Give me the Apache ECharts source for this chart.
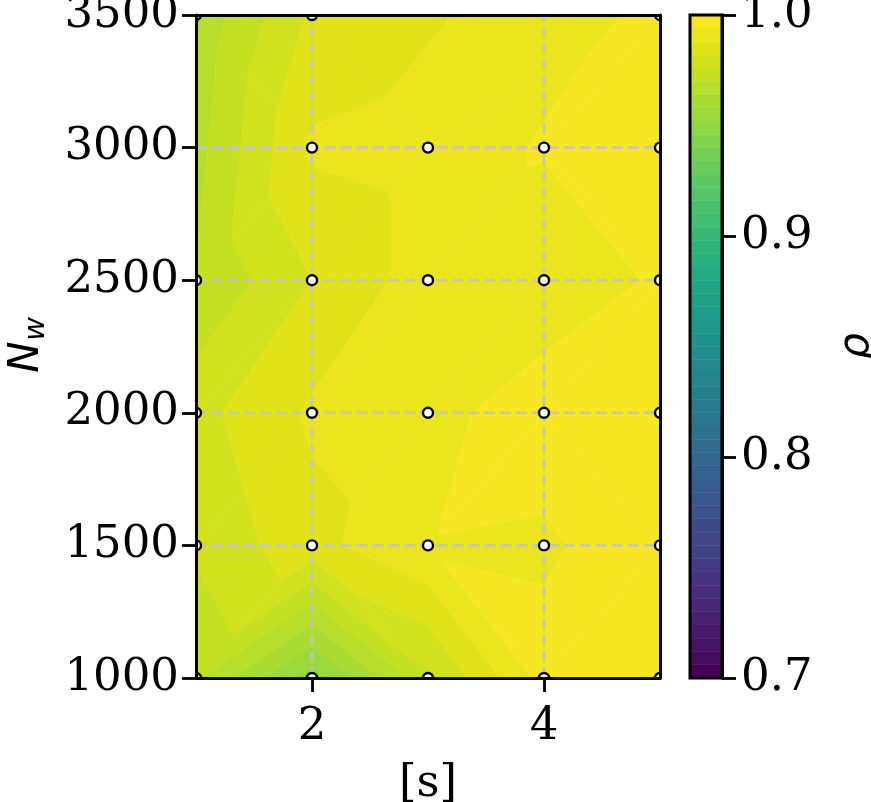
<!DOCTYPE html>
<html><head><meta charset="utf-8">
<script src="https://cdn.jsdelivr.net/npm/echarts@6/dist/echarts.min.js"></script>
<style>html,body{margin:0;padding:0;background:#fff}#c{width:871px;height:802px}</style>
</head><body><div id="c"></div>
<script>
// ---------------- data ----------------
// sample points: x = [s], y = N_w, value = rho
const sValues  = [1,2,3,4,5,  1,2,3,4,5,  1,2,3,4,5,  1,2,3,4,5,  2,3,4,5,  1,2,5];
const nwValues = [1000,1000,1000,1000,1000,
                  1500,1500,1500,1500,1500,
                  2000,2000,2000,2000,2000,
                  2500,2500,2500,2500,2500,
                  3000,3000,3000,3000,
                  3500,3500,3500];
const rhoValues = [0.971, 0.949, 0.9745, 0.9963, 0.998,
                   0.977, 0.986, 0.9937, 0.993, 0.998,
                   0.980, 0.989, 0.992, 0.9973, 0.998,
                   0.9702, 0.982, 0.991, 0.990, 0.9948,
                   0.989, 0.991, 0.9945, 0.997,
                   0.9655, 0.983, 0.9954];
// triangulation of the sample points (index triples)
const triangles = [
  [0,1,6],[0,6,5],[1,2,6],[2,7,6],[2,3,7],[3,8,7],[3,4,9],[3,9,8],
  [5,6,11],[5,11,10],[6,7,12],[6,12,11],[7,8,13],[7,13,12],[8,9,13],[9,14,13],
  [10,11,16],[10,16,15],[11,12,17],[11,17,16],[12,13,18],[12,18,17],[13,14,19],[13,19,18],
  [16,17,21],[16,21,20],[17,18,22],[17,22,21],[18,19,22],[19,23,22],
  [15,16,20],[15,20,24],[24,20,25],
  [20,21,25],[25,21,26],[21,22,26],[22,23,26]
];
const xTicks = [2, 4];
const yTicks = [1000, 1500, 2000, 2500, 3000, 3500];
const gridX = [2, 4];
const gridY = [1500, 2000, 2500, 3000];
const cbTicks = [0.7, 0.8, 0.9, 1.0];
const rhoMin = 0.7, rhoMax = 1.0, nBands = 50;

// ---------------- colormap (viridis) ----------------
const viridisStops = ['#440154','#471365','#482475','#463480','#414487','#3b528b','#355f8d',
  '#2f6c8e','#2a788e','#25848e','#21918c','#1e9c89','#22a884','#2fb47c','#44bf70','#5ec962',
  '#7ad151','#9bd93c','#bddf26','#dfe318','#fde725'];
function hex2rgb(h){return [parseInt(h.substr(1,2),16),parseInt(h.substr(3,2),16),parseInt(h.substr(5,2),16)];}
const vRGB = viridisStops.map(hex2rgb);
function viridis(t){
  t = Math.max(0, Math.min(1, t));
  const f = t * (vRGB.length - 1);
  const i = Math.min(vRGB.length - 2, Math.floor(f));
  const u = f - i;
  const c = [0,1,2].map(k => Math.round(vRGB[i][k] + u * (vRGB[i+1][k] - vRGB[i][k])));
  return 'rgb(' + c.join(',') + ')';
}
const levels = [];
for (let k = 0; k <= nBands; k++) levels.push(rhoMin + (rhoMax - rhoMin) * k / nBands);
const bandColors = [];
for (let k = 0; k < nBands; k++) bandColors.push(viridis(((levels[k] + levels[k+1]) / 2 - rhoMin) / (rhoMax - rhoMin)));

function clipPoly(poly, f){
  const out = [];
  for (let i = 0; i < poly.length; i++){
    const a = poly[i], b = poly[(i+1) % poly.length];
    const fa = f(a), fb = f(b);
    if (fa >= 0) out.push(a);
    if ((fa >= 0) !== (fb >= 0)){
      const t = fa / (fa - fb);
      out.push([a[0] + t*(b[0]-a[0]), a[1] + t*(b[1]-a[1]), a[2] + t*(b[2]-a[2])]);
    }
  }
  return out;
}

const serif = 'DejaVu Serif';
const black = '#000';
const FS = 45;
const spine = {show: true, onZero: false, lineStyle: {color: black, width: 3}};
const tickStyle = {color: black, width: 2.8};

const chart = echarts.init(document.getElementById('c'), null, {renderer: 'canvas'});
chart.setOption({
  animation: false,
  backgroundColor: '#fff',
  grid: [
    {left: 196, top: 15, width: 464, height: 663, containLabel: false, outerBoundsMode: 'none'},
    {left: 690, top: 15, width: 32, height: 663, containLabel: false, outerBoundsMode: 'none'}
  ],
  xAxis: [
    {gridIndex: 0, type: 'value', min: 1, max: 5, position: 'bottom', z: 10,
     axisLine: spine,
     axisTick: {show: true, customValues: xTicks, length: 14, lineStyle: tickStyle},
     axisLabel: {customValues: xTicks, fontSize: FS, fontFamily: serif, color: black, margin: 27},
     splitLine: {show: false},
     name: '[s]', nameLocation: 'middle', nameGap: 84,
     nameTextStyle: {fontSize: FS, fontFamily: serif, color: black}},
    {gridIndex: 0, type: 'value', min: 1, max: 5, position: 'top', z: 10,
     axisLine: spine, axisTick: {show: false}, axisLabel: {show: false}, splitLine: {show: false}},
    {gridIndex: 1, type: 'value', min: 0, max: 1, show: false}
  ],
  yAxis: [
    {gridIndex: 0, type: 'value', min: 1000, max: 3500, interval: 500, position: 'left', z: 10,
     axisLine: spine,
     axisTick: {show: true, length: 14, lineStyle: tickStyle},
     axisLabel: {fontSize: FS, fontFamily: serif, color: black, margin: 17,
                 formatter: v => String(v)},
     splitLine: {show: false}},
    {gridIndex: 0, type: 'value', min: 1000, max: 3500, position: 'right', z: 10,
     axisLine: spine, axisTick: {show: false}, axisLabel: {show: false}, splitLine: {show: false}},
    {gridIndex: 1, type: 'value', min: 0.7, max: 1.0, interval: 0.1, position: 'right', z: 10,
     axisLine: spine,
     axisTick: {show: true, length: 14, lineStyle: tickStyle},
     axisLabel: {fontSize: FS, fontFamily: serif, color: black, margin: 19,
                 formatter: v => v.toFixed(1)},
     splitLine: {show: false},
     name: 'ρ', nameLocation: 'middle', nameRotate: 90, nameGap: 114,
     nameTextStyle: {fontSize: 42, fontFamily: 'DejaVu Sans', fontStyle: 'italic', color: black}}
  ],
  graphic: [{
    type: 'group', x: 27, y: 349, rotation: Math.PI / 2,
    children: [
      {type: 'text', x: -8, y: 0, style: {text: 'N', font: 'italic 42px "DejaVu Sans"', fill: black, align: 'center', verticalAlign: 'middle'}},
      {type: 'text', x: 20, y: 9, style: {text: 'w', font: 'italic 29px "DejaVu Sans"', fill: black, align: 'center', verticalAlign: 'middle'}}
    ]
  }],
  series: [
    { // filled contours
      type: 'custom', xAxisIndex: 0, yAxisIndex: 0, z: 1, clip: true,
      data: triangles.map((t, i) => [i]),
      encode: {x: -1, y: -1},
      renderItem: function (params, api) {
        const tri = triangles[params.dataIndex];
        const verts = tri.map(i => [sValues[i], nwValues[i], rhoValues[i]]);
        const zs = verts.map(v => v[2]);
        const zmin = Math.min.apply(null, zs), zmax = Math.max.apply(null, zs);
        const children = [];
        for (let k = 0; k < nBands; k++){
          const lo = levels[k], hi = levels[k+1];
          if (hi < zmin || lo > zmax) continue;
          let p = clipPoly(verts, v => v[2] - lo);
          if (p.length < 3) continue;
          p = clipPoly(p, v => hi - v[2]);
          if (p.length < 3) continue;
          const pts = p.map(v => api.coord([v[0], v[1]]));
          children.push({type: 'polygon', shape: {points: pts},
            style: {fill: bandColors[k], stroke: bandColors[k], lineWidth: 0.7}});
        }
        return {type: 'group', children: children};
      }
    },
    { // dashed grid lines
      type: 'custom', xAxisIndex: 0, yAxisIndex: 0, z: 3,
      data: [[0]], encode: {x: -1, y: -1},
      renderItem: function (params, api) {
        const children = [];
        const st = {stroke: 'rgba(195,195,195,0.8)', lineWidth: 3, lineDash: [11, 5]};
        gridX.forEach(v => {
          const a = api.coord([v, 1000]), b = api.coord([v, 3500]);
          children.push({type: 'line', shape: {x1: a[0], y1: a[1], x2: b[0], y2: b[1]}, style: st});
        });
        gridY.forEach(v => {
          const a = api.coord([1, v]), b = api.coord([5, v]);
          children.push({type: 'line', shape: {x1: a[0], y1: a[1], x2: b[0], y2: b[1]}, style: st});
        });
        return {type: 'group', children: children};
      }
    },
    { // sample points
      type: 'custom', xAxisIndex: 0, yAxisIndex: 0, z: 5, clip: true,
      data: sValues.map((s, i) => [s, nwValues[i]]),
      renderItem: function (params, api) {
        const p = api.coord([api.value(0), api.value(1)]);
        return {type: 'circle', shape: {cx: p[0], cy: p[1], r: 5},
          style: {fill: '#fff', stroke: black, lineWidth: 2.4}};
      }
    },
    { // colorbar bands
      type: 'custom', xAxisIndex: 2, yAxisIndex: 2, z: 2,
      data: bandColors.map((c, i) => [i]), encode: {x: -1, y: -1},
      renderItem: function (params, api) {
        const i = params.dataIndex;
        const p0 = api.coord([0, levels[i]]), p1 = api.coord([1, levels[i+1]]);
        return {type: 'rect', shape: {x: p0[0], y: p1[1], width: p1[0] - p0[0], height: p0[1] - p1[1]},
          style: {fill: bandColors[i], stroke: bandColors[i], lineWidth: 0.5}};
      }
    },
    { // colorbar outline
      type: 'custom', xAxisIndex: 2, yAxisIndex: 2, z: 6,
      data: [[0]], encode: {x: -1, y: -1},
      renderItem: function (params, api) {
        const p0 = api.coord([0, rhoMin]), p1 = api.coord([1, rhoMax]);
        return {type: 'rect', shape: {x: p0[0], y: p1[1], width: p1[0] - p0[0], height: p0[1] - p1[1]},
          style: {fill: 'none', stroke: black, lineWidth: 3}};
      }
    }
  ]
});
</script></body></html>
